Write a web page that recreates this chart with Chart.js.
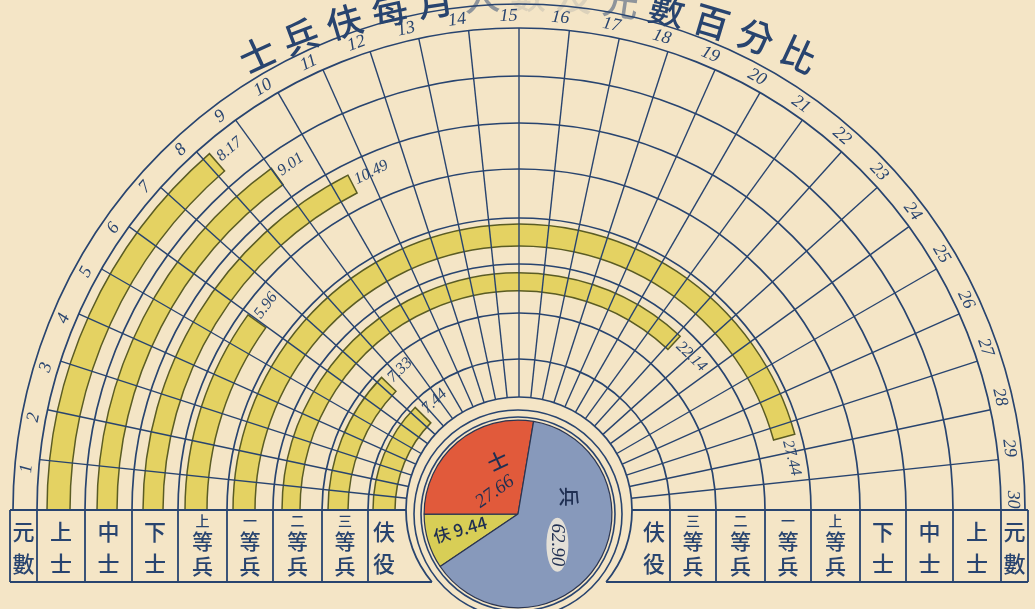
<!DOCTYPE html>
<html>
<head>
<meta charset="utf-8">
<script src="https://cdn.jsdelivr.net/npm/chart.js@4.4.0/dist/chart.umd.min.js"></script>
<style>
  html, body { margin: 0; padding: 0; background: #f4e5c6; overflow: hidden; }
  #wrap { position: relative; width: 1035px; height: 609px; }
  #main { position: absolute; left: 0; top: 0; }
  #pie { position: absolute; left: 418px; top: 414px; }
</style>
</head>
<body>
<div id="wrap">
  <canvas id="main" width="1035" height="609"></canvas>
  <canvas id="pie" width="200" height="200"></canvas>
</div>
<script>
// data
const categories = ['上士', '中士', '下士', '上等兵', '一等兵', '二等兵', '三等兵', '伕役'];
const percents = [8.17, 9.01, 10.49, 5.96, 27.44, 22.14, 7.33, 7.44];
const pieLabels = ['伕', '士', '兵'];
const pieValues = [9.44, 27.66, 62.90];
const tickLabels = [1, 2, 3, 4, 5, 6, 7, 8, 9, 10, 11, 12, 13, 14, 15, 16, 17, 18, 19, 20, 21, 22, 23, 24, 25, 26, 27, 28, 29, 30];
const axisMax = 30;
const unitLabel = '元數';
const titleText = '士兵伕每月人數及元數百分比';

// look
const ink = '#28446f';
const barFill = '#e4d262';
const barEdge = '#5a5c24';
const none = 'rgba(0,0,0,0)';
const cjk = '"Noto Sans CJK TC", "Noto Sans CJK SC", sans-serif';
const hand = '"Liberation Serif", "DejaVu Serif", serif';

// ring layout, px from the centre
const colEdges = [482, 434, 387, 341, 292, 246, 197, 151, 113];
const barOut = [472, 422, 376, 334, 286, 237, 191, 146];
const barIn = [449, 402, 356, 312, 264, 219, 171, 124];

const datasets = [];
categories.forEach((c, i) => {
  datasets.push({ role: 'gap', data: [axisMax], weight: colEdges[i] - barOut[i],
    backgroundColor: none, borderWidth: 0 });
  datasets.push({ role: 'bar', idx: i, label: c, data: [percents[i], axisMax - percents[i]],
    weight: barOut[i] - barIn[i],
    backgroundColor: [barFill, none], borderColor: [barEdge, none], borderWidth: [1.5, 0] });
  datasets.push({ role: 'gap', data: [axisMax], weight: barIn[i] - colEdges[i + 1],
    backgroundColor: none, borderWidth: 0 });
});

function rotText(ctx, t, x, y, ang, align) {
  ctx.save();
  ctx.translate(x, y);
  ctx.rotate(ang);
  ctx.textAlign = align || 'center';
  ctx.textBaseline = 'middle';
  ctx.fillText(t, 0, 0);
  ctx.restore();
}

function theta(v) { return Math.PI + v / axisMax * Math.PI; }

function stackLabel(ctx, label, x, y0, y1) {
  const chars = label.split('');
  const h = y1 - y0;
  ctx.fillStyle = ink;
  ctx.textAlign = 'center';
  ctx.textBaseline = 'middle';
  if (chars.length === 2) {
    ctx.font = '500 22px ' + cjk;
    ctx.fillText(chars[0], x, y0 + h * 0.3);
    ctx.fillText(chars[1], x, y0 + h * 0.74);
  } else {
    ctx.font = '500 14px ' + cjk;
    ctx.fillText(chars[0], x, y0 + h * 0.15);
    ctx.font = '500 21px ' + cjk;
    ctx.fillText(chars[1], x, y0 + h * 0.43);
    ctx.fillText(chars[2], x, y0 + h * 0.78);
  }
}

const gridPlugin = {
  id: 'grid',
  afterDatasetsDraw(chart) {
    const ctx = chart.ctx;
    const first = chart.getDatasetMeta(0).data[0];
    const last = chart.getDatasetMeta(datasets.length - 1).data[0];
    const cx = first.x, cy = first.y;
    const R1 = first.outerRadius;
    const rIn = last.innerRadius;
    const R0 = R1 + 24;
    const tableW = R1 + 27;
    const tableB = cy + 72;

    ctx.save();
    ctx.strokeStyle = ink;
    ctx.lineWidth = 1.7;

    // rings at the column edges
    const rings = [R1];
    datasets.forEach((d, i) => {
      if (d.role === 'gap' && i % 3 === 2) rings.push(chart.getDatasetMeta(i).data[0].innerRadius);
    });
    rings.forEach(r => {
      ctx.beginPath();
      ctx.arc(cx, cy, r, Math.PI, 2 * Math.PI);
      ctx.stroke();
    });
    ctx.beginPath();
    ctx.arc(cx, cy, R0, Math.PI, 2 * Math.PI);
    ctx.stroke();

    // spokes
    ctx.lineWidth = 1.4;
    tickLabels.forEach(t => {
      if (t >= axisMax) return;
      const a = theta(t);
      ctx.beginPath();
      ctx.moveTo(cx + rIn * Math.cos(a), cy + rIn * Math.sin(a));
      ctx.lineTo(cx + R1 * Math.cos(a), cy + R1 * Math.sin(a));
      ctx.stroke();
    });

    // tick numbers, sitting just ahead of each spoke end
    ctx.fillStyle = ink;
    ctx.font = 'italic 18px ' + hand;
    tickLabels.forEach(t => {
      const a = theta(t - 0.2);
      const r = R1 + 12;
      rotText(ctx, String(t), cx + r * Math.cos(a), cy + r * Math.sin(a), a + Math.PI / 2);
    });

    // bar values
    ctx.font = 'italic 16px ' + hand;
    datasets.forEach((d, i) => {
      if (d.role !== 'bar') return;
      const arc = chart.getDatasetMeta(i).data[0];
      const r = (arc.outerRadius + arc.innerRadius) / 2 + 2;
      const a = arc.endAngle + 4 / r;
      rotText(ctx, percents[d.idx].toFixed(2), cx + r * Math.cos(a), cy + r * Math.sin(a), a + Math.PI / 2, 'left');
    });

    // bottom tables
    ctx.lineWidth = 1.8;
    const a0 = Math.asin(72 / rIn);
    const xin = Math.sqrt(rIn * rIn - 72 * 72);
    [-1, 1].forEach(s => {
      ctx.beginPath();
      ctx.moveTo(cx + s * tableW, cy);
      ctx.lineTo(cx + s * rIn, cy);
      ctx.moveTo(cx + s * tableW, tableB);
      ctx.lineTo(cx + s * xin, tableB);
      ctx.moveTo(cx + s * tableW, cy);
      ctx.lineTo(cx + s * tableW, tableB);
      rings.slice(0, -1).forEach(r => {
        ctx.moveTo(cx + s * r, cy);
        ctx.lineTo(cx + s * r, tableB);
      });
      ctx.stroke();
      ctx.beginPath();
      if (s < 0) ctx.arc(cx, cy, rIn, Math.PI - a0, Math.PI);
      else ctx.arc(cx, cy, rIn, 0, a0);
      ctx.stroke();

      stackLabel(ctx, unitLabel, cx + s * (tableW + R1) / 2, cy, tableB);
      categories.forEach((c, i) => {
        const xo = rings[i], xi = i + 1 < rings.length - 1 ? rings[i + 1] : rIn + 6;
        stackLabel(ctx, c, cx + s * (xo + xi) / 2, cy, tableB);
      });
    });

    // frame round the pie
    ctx.lineWidth = 1.6;
    [104, 97].forEach(r => {
      ctx.beginPath();
      ctx.arc(cx - 1, cy + 4, r, 0, 2 * Math.PI);
      ctx.stroke();
    });

    // title along an arc
    ctx.font = '500 36px ' + cjk;
    const tcx = 528, tcy = 640, tr = 645;
    const fade = { 5: 0.5, 6: 0.12, 7: 0.12, 8: 0.5 };
    titleText.split('').forEach((ch, i) => {
      const a = (-24.8 + i * 4.135) * Math.PI / 180;
      ctx.globalAlpha = fade[i] || 1;
      rotText(ctx, ch, tcx + tr * Math.sin(a), tcy - tr * Math.cos(a), a);
    });
    ctx.globalAlpha = 1;
    ctx.restore();
  }
};

new Chart(document.getElementById('main'), {
  type: 'doughnut',
  data: { labels: ['value', 'rest'], datasets: datasets },
  options: {
    responsive: false,
    animation: false,
    events: [],
    devicePixelRatio: 1,
    circumference: 180,
    rotation: -90,
    cutout: (colEdges[colEdges.length - 1] / colEdges[0] * 100) + '%',
    layout: { padding: { left: 37, right: 34, top: 28, bottom: 99 } },
    elements: { arc: { offset: 0, hoverOffset: 0, borderJoinStyle: 'miter' } },
    plugins: { legend: { display: false }, tooltip: { enabled: false } }
  },
  plugins: [gridPlugin]
});

// pie in the middle
const pieColors = ['#d8ce56', '#e15a3b', '#8799bb'];
const pieText = [
  [{ t: pieLabels[0] + ' ' + pieValues[0].toFixed(2), ang: 165, r: 60, rot: -16, size: 17 }],
  [{ t: pieLabels[1], ang: 249, r: 57, rot: -25, size: 20 },
   { t: pieValues[1].toFixed(2), ang: 224, r: 32, rot: -35, size: 19 }],
  [{ t: pieLabels[2], ang: 341, r: 53, rot: 90, size: 20 },
   { t: pieValues[2].toFixed(2), ang: 38, r: 50, rot: 90, size: 19, patch: true }]
];

const pieTextPlugin = {
  id: 'pieText',
  afterDatasetsDraw(chart) {
    const ctx = chart.ctx;
    const arc = chart.getDatasetMeta(0).data[0];
    const cx = arc.x, cy = arc.y;
    ctx.save();
    pieText.forEach(list => list.forEach(p => {
      const a = p.ang * Math.PI / 180;
      const x = cx + p.r * Math.cos(a), y = cy + p.r * Math.sin(a);
      const isNum = /^[0-9.]+$/.test(p.t);
      ctx.font = (isNum ? 'italic ' + p.size + 'px ' + hand : '500 ' + p.size + 'px ' + cjk);
      if (p.patch) {
        ctx.save();
        ctx.translate(x, y);
        ctx.rotate(p.rot * Math.PI / 180);
        ctx.fillStyle = 'rgba(244,236,220,0.85)';
        ctx.beginPath();
        ctx.ellipse(0, 0, 27, 11, 0, 0, 2 * Math.PI);
        ctx.fill();
        ctx.restore();
      }
      ctx.fillStyle = '#1f2f52';
      rotText(ctx, p.t, x, y, p.rot * Math.PI / 180);
    }));
    ctx.restore();
  }
};

new Chart(document.getElementById('pie'), {
  type: 'pie',
  data: {
    labels: pieLabels,
    datasets: [{ data: pieValues, backgroundColor: pieColors, borderColor: '#2b3550', borderWidth: 1.2 }]
  },
  options: {
    responsive: false,
    animation: false,
    events: [],
    devicePixelRatio: 1,
    rotation: 236,
    layout: { padding: 5.5 },
    elements: { arc: { offset: 0, hoverOffset: 0 } },
    plugins: { legend: { display: false }, tooltip: { enabled: false } }
  },
  plugins: [pieTextPlugin]
});
</script>
</body>
</html>
